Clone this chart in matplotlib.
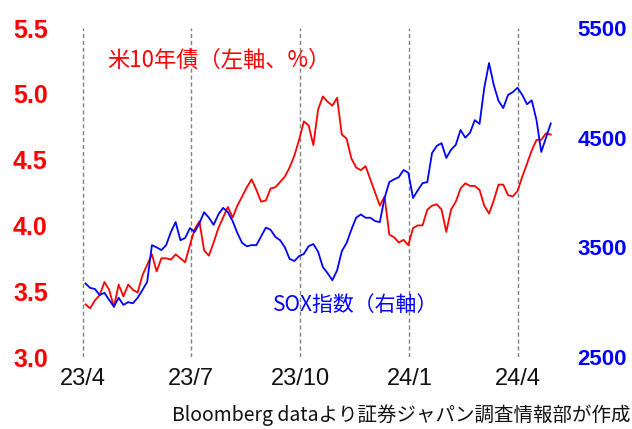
import pandas as pd
import matplotlib.pyplot as plt

# sampled every 4 days from 2023-04-03
dates = pd.date_range('2023-04-03', periods=99, freq='4D')

us10y = [3.40, 3.37, 3.43, 3.47, 3.57, 3.51, 3.38, 3.55, 3.46, 3.55,
         3.51, 3.49, 3.62, 3.70, 3.78, 3.65, 3.75, 3.75, 3.74, 3.78,
         3.75, 3.72, 3.85, 3.97, 4.03, 3.81, 3.77, 3.87, 3.98, 4.06,
         4.14, 4.06, 4.15, 4.22, 4.29, 4.35, 4.27, 4.18, 4.19, 4.28,
         4.29, 4.33, 4.37, 4.44, 4.53, 4.65, 4.79, 4.76, 4.61, 4.88,
         4.98, 4.94, 4.91, 4.97, 4.69, 4.66, 4.51, 4.44, 4.42, 4.45,
         4.35, 4.25, 4.15, 4.22, 3.93, 3.91, 3.87, 3.89, 3.85, 3.98,
         4.00, 4.00, 4.12, 4.15, 4.16, 4.12, 3.95, 4.12, 4.18, 4.28,
         4.32, 4.30, 4.30, 4.27, 4.15, 4.09, 4.19, 4.31, 4.31, 4.23,
         4.22, 4.26, 4.37, 4.47, 4.57, 4.65, 4.65, 4.70, 4.69]

sox = [3170, 3130, 3120, 3065, 3085, 3020, 2960, 3040, 2975, 3000,
       2990, 3040, 3110, 3185, 3520, 3500, 3475, 3520, 3640, 3730,
       3565, 3585, 3675, 3640, 3720, 3820, 3770, 3705, 3800, 3860,
       3820, 3740, 3630, 3540, 3510, 3520, 3520, 3600, 3680, 3660,
       3595, 3565, 3500, 3395, 3375, 3420, 3440, 3510, 3530, 3460,
       3320, 3265, 3200, 3290, 3465, 3540, 3660, 3770, 3800, 3770,
       3770, 3740, 3730, 3950, 4095, 4120, 4140, 4205, 4180, 3950,
       4020, 4085, 4095, 4360, 4425, 4450, 4315, 4390, 4435, 4570,
       4500, 4545, 4660, 4625, 4955, 5180, 4980, 4835, 4770, 4890,
       4915, 4955, 4890, 4805, 4840, 4660, 4370, 4500, 4630]

tick_dates = ['2023-04-01', '2023-07-01', '2023-10-01', '2024-01-01', '2024-04-01']
tick_labels = ['23/4', '23/7', '23/10', '24/1', '24/4']

fig = plt.figure(figsize=(6.32, 4.29), dpi=100)
ax = fig.add_axes([70 / 632, 1 - 357 / 429, 495 / 632, 329 / 429])
ax2 = ax.twinx()

for d in tick_dates:
    ax.axvline(pd.Timestamp(d), color='#808080', linestyle=(0, (3, 2)), linewidth=1.0, zorder=0)

ax.plot(dates, us10y, color='#ff0000', linewidth=1.3)
ax2.plot(dates, sox, color='#0000ff', linewidth=1.3)

ax.set_xlim(pd.Timestamp('2023-03-21'), pd.Timestamp('2024-05-11'))
ax.set_ylim(3.0, 5.5)
ax2.set_ylim(2500, 5500)

ax.set_yticks([3.0, 3.5, 4.0, 4.5, 5.0, 5.5])
ax.set_yticklabels(['3.0', '3.5', '4.0', '4.5', '5.0', '5.5'],
                   color='#ff0000', fontsize=18, fontweight='bold', family='Liberation Sans')
ax2.set_yticks([2500, 3500, 4500, 5500])
ax2.set_yticklabels(['2500', '3500', '4500', '5500'],
                    color='#0000ff', fontsize=16, fontweight='bold', family='Liberation Sans')
ax.set_xticks([pd.Timestamp(d) for d in tick_dates])
ax.set_xticklabels(tick_labels, fontsize=17, family='Liberation Sans', color='#111111')

ax.tick_params(axis='y', length=0, pad=16)
ax2.tick_params(axis='y', length=0, pad=9)
ax.tick_params(axis='x', length=0, pad=8)

for a in (ax, ax2):
    for s in a.spines.values():
        s.set_visible(False)
    a.patch.set_visible(False)

jp = ['Noto Sans CJK JP', 'DejaVu Sans']
fig.text(107 / 632, 1 - 60 / 429, '米10年債（左軸、%）', color='#ff0000', fontsize=16,
         family=jp, va='center', ha='left')
fig.text(273 / 632, 1 - 305 / 429, 'SOX指数（右軸）', color='#0000ff', fontsize=15,
         family=jp, va='center', ha='left')
fig.text(630 / 632, 1 - 415 / 429, 'Bloomberg dataより証券ジャパン調査情報部が作成', color='#111111',
         fontsize=14, family=jp, va='center', ha='right')

fig.savefig('out.png', dpi=100)
